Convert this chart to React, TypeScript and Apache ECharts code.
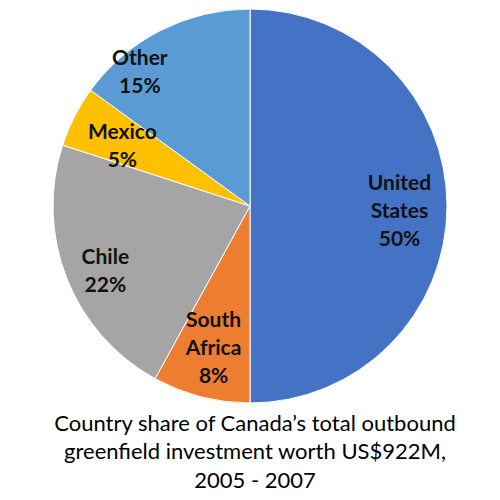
import React, { useEffect, useRef } from "react";
import * as echarts from "echarts";

const categories = ["United\nStates", "South\nAfrica", "Chile", "Mexico", "Other"];
const shares = [50, 8, 22, 5, 15];
const colors = ["#4472C4", "#ED7D31", "#A5A5A5", "#FFC000", "#5B9BD5"];
const labelNudgeX = [-5, 2, -1, 10, -40];
const labelNudgeY = [3, -9, 7, 9, 2];
const titleText =
  "Country share of Canada\u2019s total outbound\ngreenfield investment worth US$922M,\n2005 - 2007";

export default function App() {
  const ref = useRef<HTMLDivElement>(null);
  useEffect(() => {
    document.body.style.margin = "0";
    const chart = echarts.init(ref.current!, null, { renderer: "svg" });
    const data = categories.map((name, i) => ({
      name,
      value: shares[i],
      itemStyle: { color: colors[i] },
    }));
    chart.setOption({
      animation: false,
      backgroundColor: "#ffffff",
      title: {
        text: titleText,
        left: 250,
        top: 403,
        textAlign: "center",
        textStyle: {
          fontFamily: "Lato",
          fontSize: 22,
          fontWeight: "normal",
          color: "#000000",
          lineHeight: 28.5,
          align: "center",
        },
      },
      series: [
        {
          type: "pie",
          center: [250, 206],
          radius: [0, 197],
          startAngle: 90,
          clockwise: true,
          data,
          itemStyle: { borderColor: "#ffffff", borderWidth: 1 },
          label: { show: false },
          labelLine: { show: false },
          silent: true,
        },
        {
          type: "pie",
          center: [250, 206],
          radius: [106, 197],
          startAngle: 90,
          clockwise: true,
          data: categories.map((name, i) => ({ name, value: shares[i] })),
          itemStyle: { color: "rgba(0,0,0,0)" },
          label: {
            show: true,
            position: "inside",
            formatter: "{b}\n{c}%",
            fontFamily: "Lato",
            fontSize: 21,
            fontWeight: "bold",
            color: "#111111",
            lineHeight: 28,
            align: "center",
          },
          labelLine: { show: false },
          labelLayout: (p: any) => ({
            dx: labelNudgeX[p.dataIndex],
            dy: labelNudgeY[p.dataIndex],
          }),
          silent: true,
        },
      ],
    });
    return () => chart.dispose();
  }, []);
  return <div ref={ref} style={{ width: 500, height: 500 }} />;
}
